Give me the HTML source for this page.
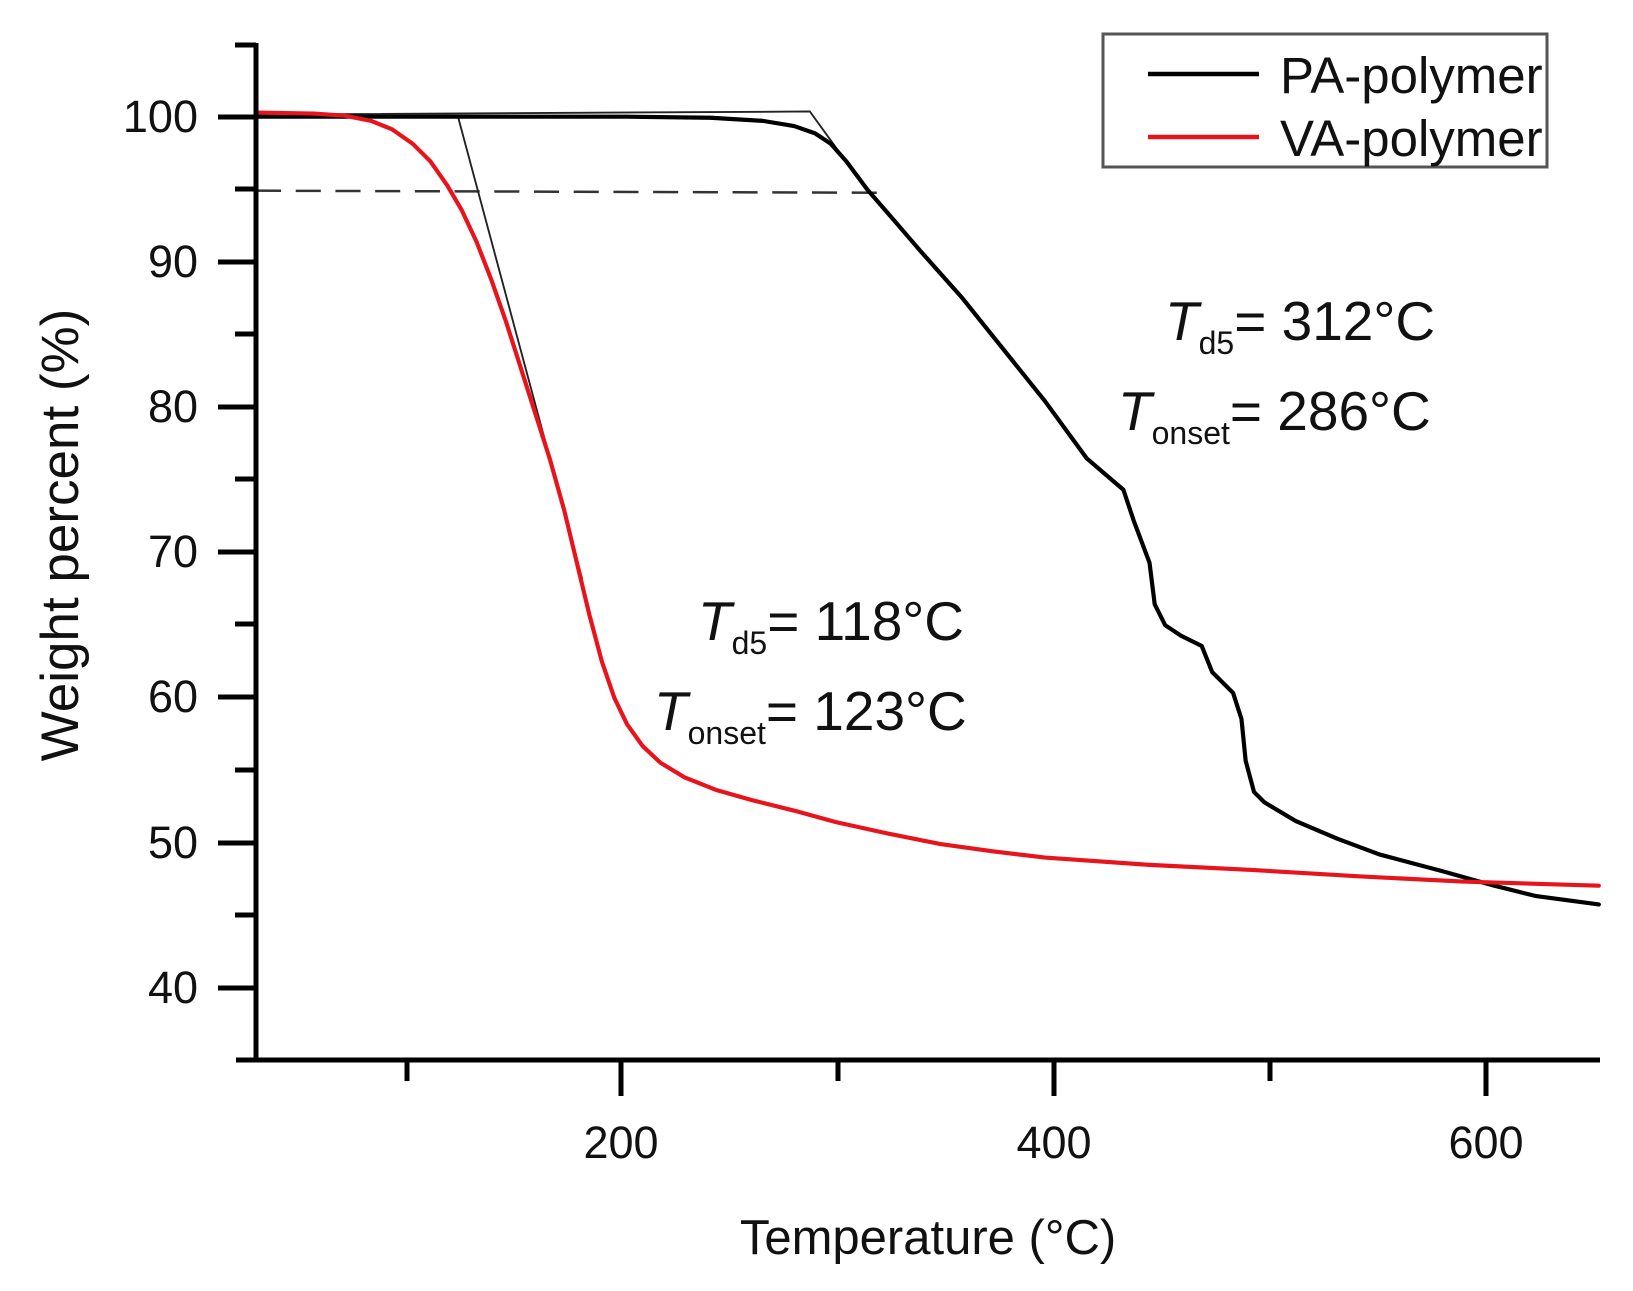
<!DOCTYPE html>
<html><head><meta charset="utf-8"><style>
html,body{margin:0;padding:0;background:#fff;}
svg{display:block;font-family:"Liberation Sans",Arial,sans-serif;}
</style></head><body>
<svg width="1633" height="1291" viewBox="0 0 1633 1291" xmlns="http://www.w3.org/2000/svg">
<rect width="1633" height="1291" fill="#fff"/>
<g transform="scale(1.045,1.042)" fill="none" stroke-linejoin="round" stroke-linecap="round">
  <line x1="245" y1="183" x2="845" y2="185" stroke="#333" stroke-width="2.4" stroke-dasharray="24,14" stroke-linecap="butt"/>
  <polyline points="245,110 775,107 806,150" stroke="#222" stroke-width="1.8"/>
  <line x1="438" y1="111" x2="557" y2="555" stroke="#222" stroke-width="1.8"/>
  <polyline stroke="#000" stroke-width="4" points="245,112 600,112 680,113 730,116 760,121 780,128 795,138 810,155 830,182 850,205 880,240 920,285 960,335 1000,385 1040,440 1075,470 1085,500 1100,540 1105,580 1115,600 1130,610 1150,620 1160,645 1180,665 1188,690 1192,730 1200,760 1210,770 1240,788 1280,805 1320,820 1380,836 1430,850 1470,860 1530,868"/>
  <polyline stroke="#e8141c" stroke-width="4" points="245,108 300,109 330,111 355,116 375,124 395,138 412,155 428,178 442,202 456,232 470,268 484,308 498,352 512,396 526,440 540,490 552,540 564,590 576,635 588,670 600,695 615,716 632,732 655,746 685,758 720,768 760,778 800,789 850,800 900,810 950,817 1000,823 1100,830 1200,835 1300,841 1400,846 1530,850"/>
</g>
<g stroke="#000" stroke-width="5" fill="none">
  <line x1="256" y1="43" x2="256" y2="1062"/>
  <line x1="236" y1="1060" x2="1600" y2="1060"/>
  <line x1="235" y1="45" x2="256" y2="45"/>
  <line x1="218" y1="117" x2="256" y2="117"/>
  <line x1="235" y1="189" x2="256" y2="189"/>
  <line x1="218" y1="262" x2="256" y2="262"/>
  <line x1="235" y1="334" x2="256" y2="334"/>
  <line x1="218" y1="407" x2="256" y2="407"/>
  <line x1="235" y1="479" x2="256" y2="479"/>
  <line x1="218" y1="552" x2="256" y2="552"/>
  <line x1="235" y1="624" x2="256" y2="624"/>
  <line x1="218" y1="697" x2="256" y2="697"/>
  <line x1="235" y1="770" x2="256" y2="770"/>
  <line x1="218" y1="843" x2="256" y2="843"/>
  <line x1="235" y1="915" x2="256" y2="915"/>
  <line x1="218" y1="988" x2="256" y2="988"/>
  <line x1="407" y1="1060" x2="407" y2="1081"/>
  <line x1="621" y1="1060" x2="621" y2="1096"/>
  <line x1="838" y1="1060" x2="838" y2="1081"/>
  <line x1="1054" y1="1060" x2="1054" y2="1096"/>
  <line x1="1270" y1="1060" x2="1270" y2="1081"/>
  <line x1="1486" y1="1060" x2="1486" y2="1096"/>
</g>
<g font-size="45" fill="#111" text-anchor="end">
  <text x="198" y="132">100</text>
  <text x="198" y="277">90</text>
  <text x="198" y="422">80</text>
  <text x="198" y="567">70</text>
  <text x="198" y="712">60</text>
  <text x="198" y="858">50</text>
  <text x="198" y="1003">40</text>
</g>
<g font-size="45" fill="#111" text-anchor="middle">
  <text x="621" y="1158">200</text>
  <text x="1054" y="1158">400</text>
  <text x="1486" y="1158">600</text>
  <text x="928" y="1254" font-size="49">Temperature (°C)</text>
  <text transform="translate(78,535) rotate(-90)" font-size="53">Weight percent (%)</text>
</g>
<rect x="1103" y="34" width="444" height="133" fill="#fff" stroke="#555" stroke-width="3"/>
<line x1="1148" y1="74" x2="1259" y2="74" stroke="#000" stroke-width="4.5"/>
<line x1="1148" y1="137" x2="1259" y2="137" stroke="#e8141c" stroke-width="4.5"/>
<g font-size="51" fill="#111">
  <text x="1280" y="93">PA-polymer</text>
  <text x="1280" y="156">VA-polymer</text>
</g>
<g font-size="55" fill="#111">
  <text x="1165" y="340"><tspan font-style="italic">T</tspan><tspan font-size="32" dy="14">d5</tspan><tspan dy="-14">= 312°C</tspan></text>
  <text x="1118" y="430"><tspan font-style="italic">T</tspan><tspan font-size="32" dy="14">onset</tspan><tspan dy="-14">= 286°C</tspan></text>
  <text x="698" y="640"><tspan font-style="italic">T</tspan><tspan font-size="32" dy="14">d5</tspan><tspan dy="-14">= 118°C</tspan></text>
  <text x="654" y="730"><tspan font-style="italic">T</tspan><tspan font-size="32" dy="14">onset</tspan><tspan dy="-14">= 123°C</tspan></text>
</g>
</svg>
</body></html>
